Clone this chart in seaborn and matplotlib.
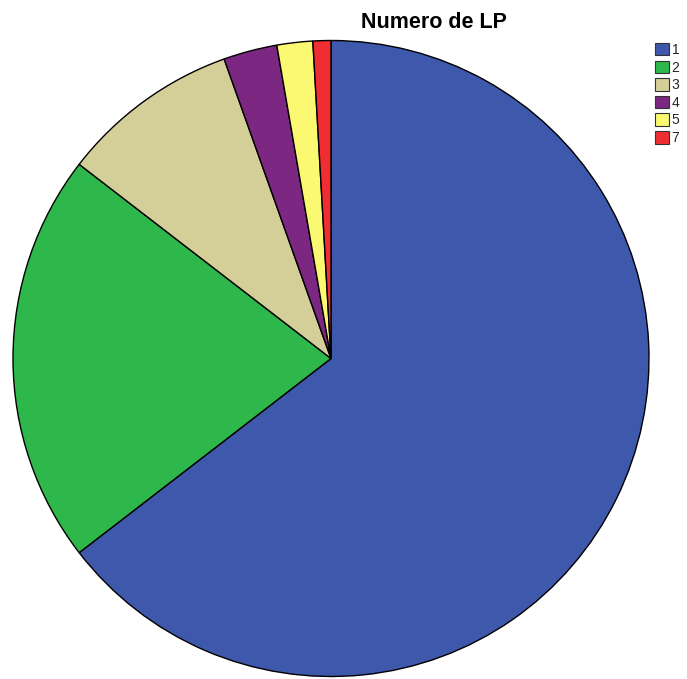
import matplotlib
matplotlib.use("Agg")
import matplotlib.pyplot as plt
import seaborn as sns
from matplotlib.patches import Patch

sns.set_theme(style="white")
plt.rcParams["font.family"] = ["Liberation Sans", "DejaVu Sans"]

# Frequencies of "Numero de LP"
categories = ["1", "2", "3", "4", "5", "7"]
counts = [71, 23, 10, 3, 2, 1]
colors = ["#3e58ab", "#2eb84b", "#d4cf99", "#7c2882", "#fbf872", "#ee2e32"]

W, H = 687, 679
fig = plt.figure(figsize=(W / 100, H / 100), dpi=100)

cx, cy, r = 331, 358.5, 318
ax = fig.add_axes([(cx - r) / W, (H - cy - r) / H, 2 * r / W, 2 * r / H])
ax.pie(counts, colors=sns.color_palette(colors), startangle=90, counterclock=False,
       radius=1.0, wedgeprops=dict(edgecolor="black", linewidth=1.0))
ax.set_xlim(-1.0, 1.0)
ax.set_ylim(-1.0, 1.0)
ax.set_aspect("auto")
ax.axis("off")

fig.text(434 / W, 1 - 23 / H, "Numero de LP", ha="center", va="center",
         fontsize=15.5, fontweight="bold", color="black")

handles = [Patch(facecolor=c, edgecolor="#333333", linewidth=0.8) for c in colors]
fig.legend(handles, categories, loc="upper left", bbox_to_anchor=(655 / W, 1 - 43 / H),
           frameon=False, fontsize=10, handlelength=1.0, handleheight=1.0,
           handletextpad=0.2, labelspacing=0.26, borderpad=0, borderaxespad=0)

fig.savefig("out.png", dpi=100, facecolor="white")
